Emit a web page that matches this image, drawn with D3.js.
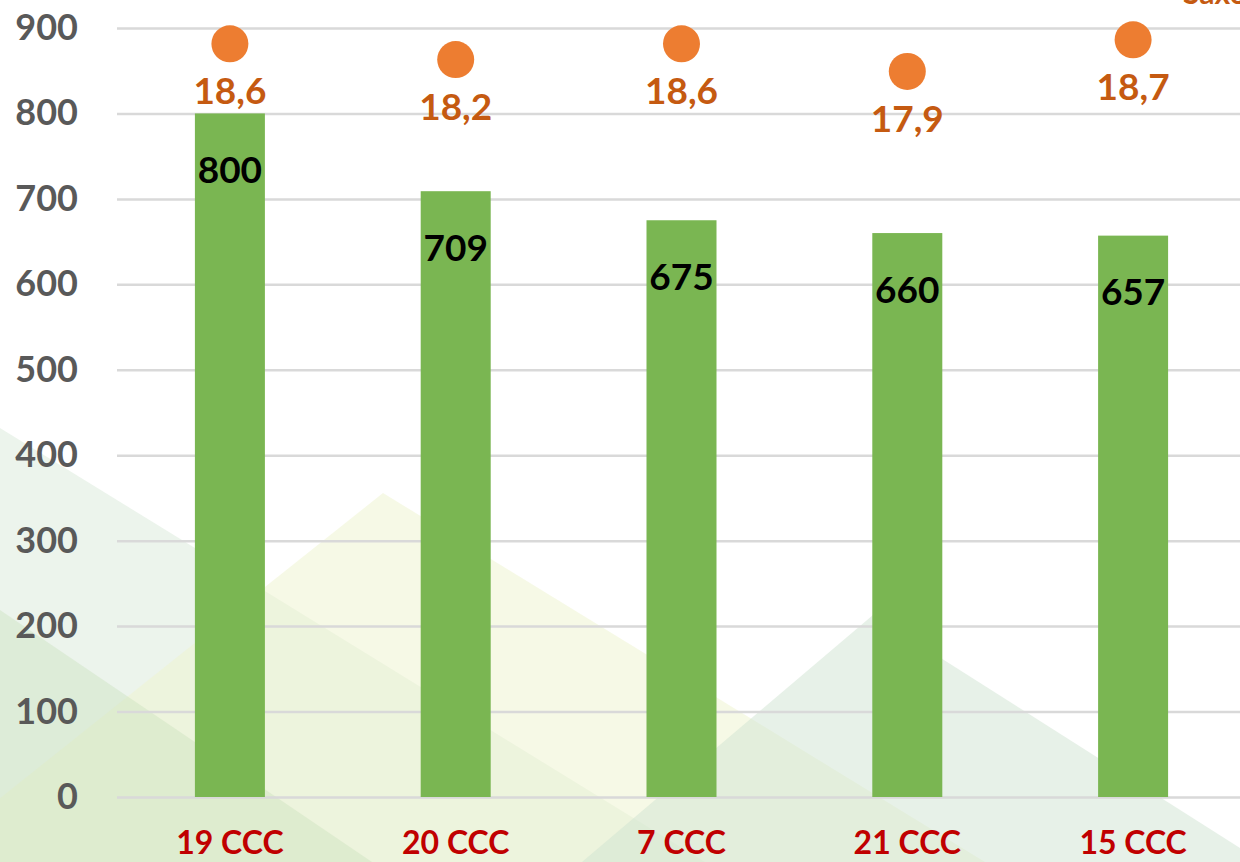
<!DOCTYPE html>
<html lang="vi">
	<head>
		<meta charset="UTF-8" />
		<title>CCC chart</title>
		<script src="https://d3js.org/d3.v7.min.js"></script>
		<style>
			body { margin: 0; background: #fff; }
			svg { display: block; }
		</style>
	</head>
	<body>
		<svg id="chart"></svg>
		<script>
			// chart values
			var categories = ["19 CCC", "20 CCC", "7 CCC", "21 CCC", "15 CCC"];
			var barValues = [800, 709, 675, 660, 657];
			var dotValues = [18.6, 18.2, 18.6, 17.9, 18.7];
			var yTicks = [0, 100, 200, 300, 400, 500, 600, 700, 800, 900];

			(function () {
				var width = 1240;
				var height = 862;
				var plotLeft = 117, plotRight = 1246, plotTop = 28, plotBottom = 797;

				var svg = d3.select("#chart").attr("width", width).attr("height", height);

				// decorative background triangles
				var bg = svg.append("g");
				var shapes = [
					{ pts: [[0, 428], [705, 862], [0, 862]], fill: "#cfe3cf", op: 0.4 },
					{ pts: [[383, 493], [985, 862], [-80, 862]], fill: "#eef4d2", op: 0.55 },
					{ pts: [[873, 615], [1262, 862], [582, 862]], fill: "#cfe3d2", op: 0.5 },
					{ pts: [[0, 610], [372, 862], [0, 862]], fill: "#c4ddb4", op: 0.35 }
				];
				bg.selectAll("polygon")
					.data(shapes)
					.enter()
					.append("polygon")
					.attr("points", function (d) { return d.pts.join(" "); })
					.attr("fill", function (d) { return d.fill; })
					.attr("fill-opacity", function (d) { return d.op; });

				var x = d3.scaleBand()
					.domain(categories)
					.range([plotLeft, plotRight])
					.paddingInner(0.69)
					.paddingOuter(0.345);
				var y = d3.scaleLinear().domain([0, 900]).range([plotBottom, plotTop]);
				// second series sits on its own (hidden) axis
				var y2 = d3.scaleLinear().domain([17, 19]).range([107, 28]);

				// grid + y labels
				var yAxis = svg.append("g")
					.attr("transform", "translate(" + plotLeft + ",0)")
					.call(d3.axisLeft(y).tickValues(yTicks).tickSize(-(width - plotLeft)).tickPadding(39));
				yAxis.select(".domain").remove();
				yAxis.selectAll("line").attr("stroke", "#d9d9d9").attr("stroke-width", 2.5);
				yAxis.selectAll("text")
					.attr("fill", "#595959")
					.attr("font-family", "Lato, sans-serif")
					.attr("font-weight", "bold")
					.attr("font-size", 36);

				// bars
				svg.append("g").selectAll("rect")
					.data(barValues)
					.enter()
					.append("rect")
					.attr("x", function (d, i) { return x(categories[i]); })
					.attr("y", function (d) { return y(d); })
					.attr("width", x.bandwidth())
					.attr("height", function (d) { return plotBottom - y(d); })
					.attr("fill", "#7ab652");

				svg.append("g").selectAll("text")
					.data(barValues)
					.enter()
					.append("text")
					.attr("x", function (d, i) { return x(categories[i]) + x.bandwidth() / 2; })
					.attr("y", function (d) { return y(d) + 55; })
					.attr("text-anchor", "middle")
					.attr("dominant-baseline", "central")
					.attr("font-family", "Lato, sans-serif")
					.attr("font-weight", "bold")
					.attr("font-size", 37)
					.attr("fill", "#000")
					.text(function (d) { return d; });

				// orange dots
				svg.append("g").selectAll("circle")
					.data(dotValues)
					.enter()
					.append("circle")
					.attr("cx", function (d, i) { return x(categories[i]) + x.bandwidth() / 2; })
					.attr("cy", function (d) { return y2(d); })
					.attr("r", 18.5)
					.attr("fill", "#ed7d31");

				svg.append("g").selectAll("text")
					.data(dotValues)
					.enter()
					.append("text")
					.attr("x", function (d, i) { return x(categories[i]) + x.bandwidth() / 2; })
					.attr("y", function (d) { return y2(d) + 46; })
					.attr("text-anchor", "middle")
					.attr("dominant-baseline", "central")
					.attr("font-family", "Lato, sans-serif")
					.attr("font-weight", "bold")
					.attr("font-size", 37)
					.attr("fill", "#c55a11")
					.text(function (d) { return d3.format(".1f")(d).replace(".", ","); });

				// category labels
				svg.append("g").selectAll("text")
					.data(categories)
					.enter()
					.append("text")
					.attr("x", function (d) { return x(d) + x.bandwidth() / 2; })
					.attr("y", 854)
					.attr("text-anchor", "middle")
					.attr("font-family", "Lato, sans-serif")
					.attr("font-weight", "bold")
					.attr("font-size", 32)
					.attr("fill", "#c00000")
					.text(function (d) { return d; });

				// legend text cut off at the top right
				svg.append("text")
					.attr("x", 1183)
					.attr("y", 4)
					.attr("font-family", "Lato, sans-serif")
					.attr("font-weight", "bold")
					.attr("font-size", 30)
					.attr("fill", "#c55a11")
					.text("Saxo");
			}).call(this);
		</script>
	</body>
</html>
